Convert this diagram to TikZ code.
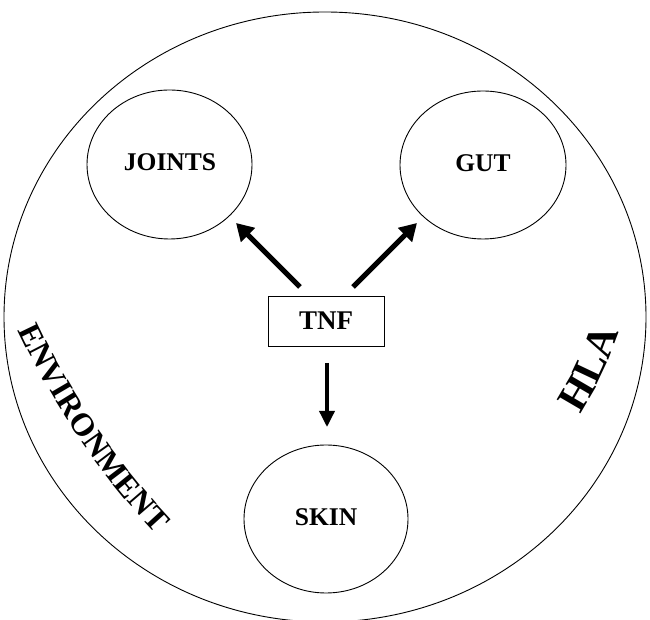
\documentclass[tikz,border=0pt]{standalone}
\usepackage{fontspec}
\setmainfont{Liberation Serif}
\usetikzlibrary{arrows.meta,decorations.text}
\tikzset{
  organ/.style={draw, line width=0.9pt, ellipse, inner sep=0pt},
  lbl/.style={font=\fontsize{25.5}{26}\selectfont\bfseries},
  fat/.style={line width=5pt, -{Triangle[length=17pt,width=19pt]}},
  thin/.style={line width=3.5pt, -{Triangle[length=16pt,width=15pt]}},
}
\begin{document}
\begin{tikzpicture}[x=1pt,y=1pt]
\useasboundingbox (0,0) rectangle (650,620);
% outer circle
\draw[line width=0.9pt] (325,303) ellipse [x radius=321, y radius=305];
% organ ellipses
\draw[line width=0.9pt] (169.5,455.5) ellipse [x radius=82.5, y radius=74.5];
\node[lbl] (joints) at (170,458) {JOINTS};
\draw[line width=0.9pt] (483,455) ellipse [x radius=83, y radius=74];
\node[lbl] (gut) at (483,457) {GUT};
\draw[line width=0.9pt] (326,101) ellipse [x radius=82, y radius=74];
\node[lbl] (skin) at (326,103) {SKIN};
% TNF box
\node[draw, line width=0.9pt, minimum width=116pt, minimum height=50pt,
      font=\fontsize{27}{28}\selectfont\bfseries] (tnf) at (326,299) {TNF};
% arrow end points
\coordinate (ja) at (300,333);
\coordinate (jb) at (236,397);
\coordinate (ga) at (353,333);
\coordinate (gb) at (417,397);
\coordinate (sa) at (327,257);
\coordinate (sb) at (327,193);
\draw[fat] (ja) -- (jb);
\draw[fat] (ga) -- (gb);
\draw[thin] (sa) -- (sb);
% curved labels
\path[decorate, decoration={text along path, text align=left,
  text={|\fontsize{32}{32}\selectfont\bfseries|ENVIRONMENT}}]
  (18,290) arc[start angle=-155, end angle=-128, radius=780];
\path[decorate, decoration={text along path, text align=left,
  text={|\fontsize{42}{42}\selectfont\bfseries|HLA}}]
  (580,206) arc[start angle=-33, end angle=0, radius=349];
\end{tikzpicture}
\end{document}
